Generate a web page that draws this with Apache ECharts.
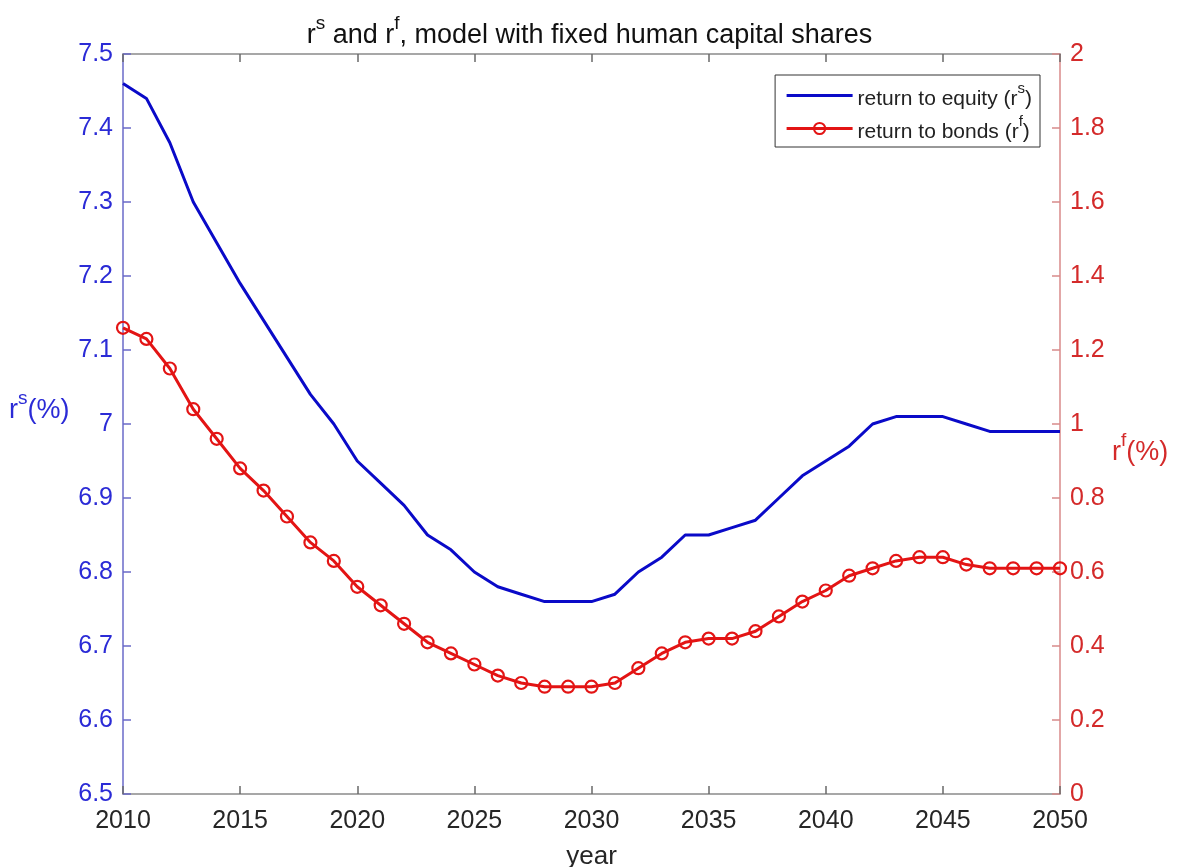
<!DOCTYPE html>
<html>
<head>
<meta charset="utf-8">
<script src="https://cdn.jsdelivr.net/npm/echarts@6/dist/echarts.min.js"></script>
<style>
  html, body { margin: 0; padding: 0; background: #fff; }
  #main { width: 1179px; height: 867px; }
</style>
</head>
<body>
<div id="main"></div>
<script>
// years 2010..2050
var years = [2010,2011,2012,2013,2014,2015,2016,2017,2018,2019,
             2020,2021,2022,2023,2024,2025,2026,2027,2028,2029,
             2030,2031,2032,2033,2034,2035,2036,2037,2038,2039,
             2040,2041,2042,2043,2044,2045,2046,2047,2048,2049,2050];

// return to equity r^s (%) - left axis
var rEquity = [7.46,7.44,7.38,7.30,7.245,7.19,7.14,7.09,7.04,7.00,
               6.95,6.92,6.89,6.85,6.83,6.80,6.78,6.77,6.76,6.76,
               6.76,6.77,6.80,6.82,6.85,6.85,6.86,6.87,6.90,6.93,
               6.95,6.97,7.00,7.01,7.01,7.01,7.00,6.99,6.99,6.99,6.99];

// return to bonds r^f (%) - right axis
var rBonds = [1.26,1.23,1.15,1.04,0.96,0.88,0.82,0.75,0.68,0.63,
              0.56,0.51,0.46,0.41,0.38,0.35,0.32,0.30,0.29,0.29,
              0.29,0.30,0.34,0.38,0.41,0.42,0.42,0.44,0.48,0.52,
              0.55,0.59,0.61,0.63,0.64,0.64,0.62,0.61,0.61,0.61,0.61];

var FONT = '"Liberation Sans", Arial, sans-serif';
var BLUE = '#0a0ac8';
var RED = '#e31414';
var LBLUE = '#2b2bd6';
var LRED = '#d42a2a';

function pairs(vals) {
    return years.map(function(y, i) { return [y, vals[i]]; });
}

// rich text styles for "r^x" labels
function supRich(size, color, fillKey) {
    var n = { fontFamily: FONT, fontSize: size, lineHeight: size + 8, verticalAlign: 'bottom' };
    var s = { fontFamily: FONT, fontSize: Math.round(size * 0.7), lineHeight: size + 8, verticalAlign: 'top', padding: [0, 0, Math.round(size * 0.5), 0] };
    n[fillKey] = color;
    s[fillKey] = color;
    return { n: n, s: s };
}

var chart = echarts.init(document.getElementById('main'));
chart.setOption({
    animation: false,
    backgroundColor: '#fff',
    title: {
        left: 'center',
        top: 9,
        text: '{n|r}{s|s}{n| and r}{s|f}{n|, model with fixed human capital shares}',
        textStyle: {
            fontWeight: 'normal',
            rich: supRich(27, '#111', 'color')
        }
    },
    legend: {
        right: 139,
        top: 75,
        orient: 'vertical',
        backgroundColor: '#fff',
        borderColor: '#333',
        borderWidth: 1,
        borderRadius: 0,
        padding: [6, 8, 4, 10],
        itemGap: 4,
        itemWidth: 66,
        itemHeight: 14,
        lineStyle: { width: 3 },
        data: [
            { name: 'return to equity', itemStyle: { opacity: 0 } },
            { name: 'return to bonds' }
        ],
        formatter: function(name) {
            if (name === 'return to equity') return '{n|return to equity (r}{s|s}{n|)}';
            return '{n|return to bonds (r}{s|f}{n|)}';
        },
        textStyle: {
            rich: supRich(21, '#222', 'color')
        }
    },
    grid: { left: 123, right: 119, top: 54, bottom: 73, containLabel: false, outerBoundsMode: 'none' },
    xAxis: [
        {
            type: 'value',
            min: 2010,
            max: 2050,
            interval: 5,
            name: 'year',
            nameLocation: 'middle',
            nameGap: 50,
            nameTextStyle: { fontFamily: FONT, fontSize: 26, color: '#262626' },
            axisLine: { onZero: false, lineStyle: { color: '#8a8a8a', width: 1.5 } },
            axisTick: { inside: true, length: 8, lineStyle: { color: '#6a6a6a', width: 1.5 } },
            axisLabel: {
                fontFamily: FONT, fontSize: 25, color: '#262626', margin: 15,
                formatter: function(v) { return String(v); }
            },
            splitLine: { show: false }
        },
        {
            type: 'value',
            position: 'top',
            min: 2010,
            max: 2050,
            interval: 5,
            axisLine: { onZero: false, lineStyle: { color: '#8a8a8a', width: 1.5 } },
            axisTick: { inside: true, length: 8, lineStyle: { color: '#6a6a6a', width: 1.5 } },
            axisLabel: { show: false },
            splitLine: { show: false }
        }
    ],
    yAxis: [
        {
            type: 'value',
            position: 'left',
            min: 6.5,
            max: 7.5,
            interval: 0.1,
            axisLine: { show: true, onZero: false, lineStyle: { color: '#6a6ac8', width: 1.5 } },
            axisTick: { show: true, inside: true, length: 8, lineStyle: { color: '#6a6ac8', width: 1.5 } },
            axisLabel: { fontFamily: FONT, fontSize: 25, color: LBLUE, margin: 10 },
            splitLine: { show: false }
        },
        {
            type: 'value',
            position: 'right',
            min: 0,
            max: 2,
            interval: 0.2,
            axisLine: { show: true, onZero: false, lineStyle: { color: '#d88a8a', width: 1.5 } },
            axisTick: { show: true, inside: true, length: 8, lineStyle: { color: '#d88a8a', width: 1.5 } },
            axisLabel: { fontFamily: FONT, fontSize: 25, color: LRED, margin: 10 },
            splitLine: { show: false }
        }
    ],
    graphic: [
        {
            type: 'text',
            left: 9,
            top: 389,
            style: {
                text: '{n|r}{s|s}{n|(%)}',
                rich: supRich(27, LBLUE, 'fill')
            }
        },
        {
            type: 'text',
            left: 1112,
            top: 431,
            style: {
                text: '{n|r}{s|f}{n|(%)}',
                rich: supRich(27, LRED, 'fill')
            }
        }
    ],
    series: [
        {
            name: 'return to equity',
            type: 'line',
            xAxisIndex: 0,
            yAxisIndex: 0,
            data: pairs(rEquity),
            showSymbol: false,
            symbol: 'none',
            itemStyle: { color: BLUE },
            lineStyle: { color: BLUE, width: 3 }
        },
        {
            name: 'return to bonds',
            type: 'line',
            xAxisIndex: 0,
            yAxisIndex: 1,
            data: pairs(rBonds),
            symbol: 'circle',
            symbolSize: 12,
            itemStyle: { color: 'rgba(255,255,255,0)', borderColor: RED, borderWidth: 2.2 },
            lineStyle: { color: RED, width: 3 }
        }
    ]
});
</script>
</body>
</html>
